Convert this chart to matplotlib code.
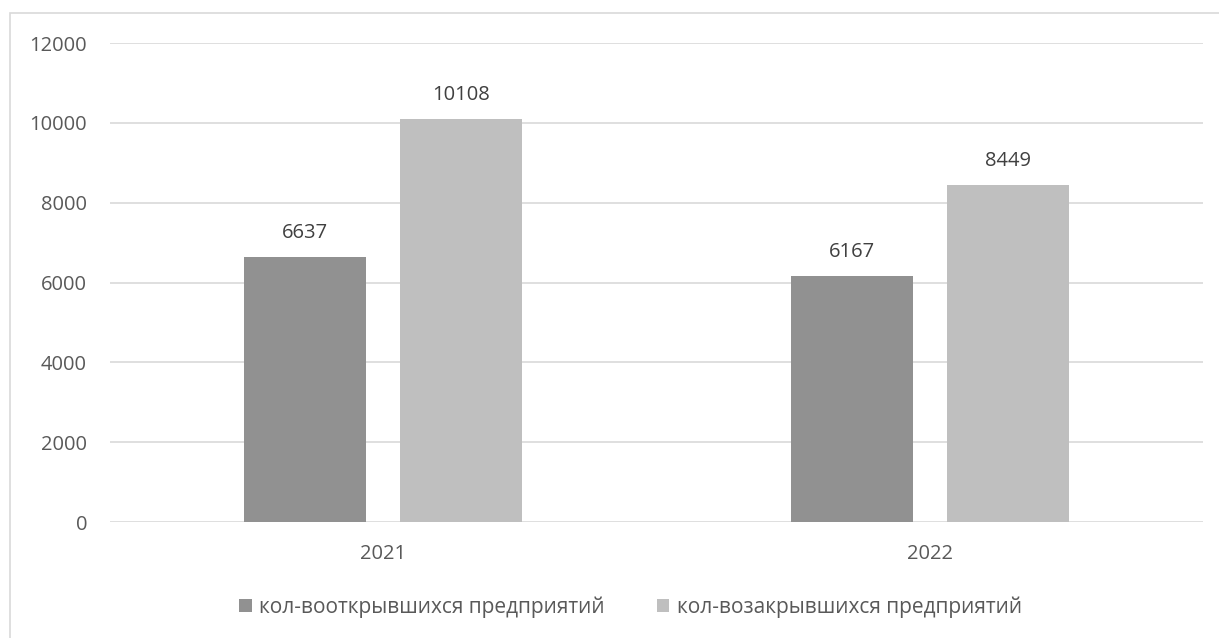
import matplotlib.pyplot as plt
import numpy as np
from matplotlib.patches import Rectangle

years = ['2021', '2022']
opened = [6637, 6167]
closed = [10108, 8449]
series_names = ['кол-вооткрывшихся предприятий', 'кол-возакрывшихся предприятий']

plt.rcParams['font.family'] = ['Open Sans', 'DejaVu Sans']
txt = '#595959'

fig = plt.figure(figsize=(12.19, 6.38), dpi=100)
ax = fig.add_axes([0.0902, 0.1818, 0.8967, 0.7508])

x = np.arange(len(years))
w = 0.223
off = 0.1427
b1 = ax.bar(x - off, opened, w, color='#919191', label=series_names[0], zorder=2)
b2 = ax.bar(x + off, closed, w, color='#bfbfbf', label=series_names[1], zorder=2)

for bars in (b1, b2):
    for r in bars:
        ax.text(r.get_x() + r.get_width() / 2, r.get_height() + 600, str(int(r.get_height())),
                ha='center', va='center', fontsize=14.5, color='#404040')

ax.set_xlim(-0.5, 1.5)
ax.set_ylim(0, 12000)
ax.set_yticks(range(0, 12001, 2000))
ax.set_xticks(x)
ax.set_xticklabels(years)
ax.tick_params(length=0, labelsize=14.5, labelcolor=txt)
ax.tick_params(axis='y', pad=16.5)
ax.tick_params(axis='x', pad=15.5)
ax.grid(axis='y', color='#d9d9d9', linewidth=1.2, zorder=0)
for s in ax.spines.values():
    s.set_visible(False)

leg = fig.legend(loc='center', bbox_to_anchor=(0.517, 0.0486), ncol=2, frameon=False,
                 fontsize=15, handlelength=0.62, handleheight=0.62, handletextpad=0.34,
                 columnspacing=2.5, borderpad=0)
for t in leg.get_texts():
    t.set_color(txt)

fig.patches.append(Rectangle((10 / 1219, -0.05), 1.2, 1 - 13 / 638 + 0.05,
                             transform=fig.transFigure, fill=False,
                             edgecolor='#d9d9d9', linewidth=1.2))

fig.savefig('out.png', dpi=100)
